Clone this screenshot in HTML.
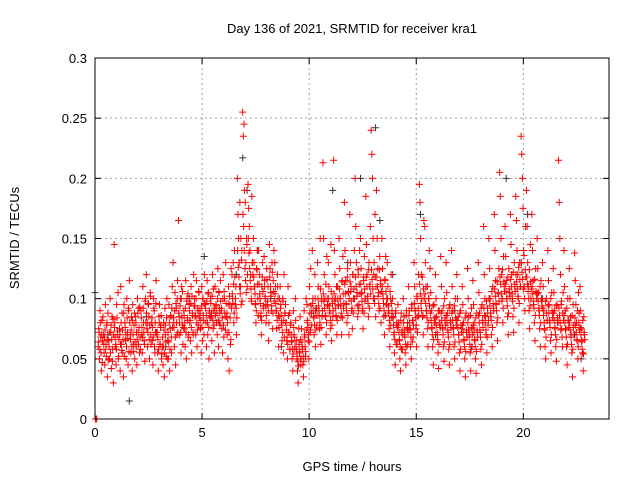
<!DOCTYPE html>
<html><head><meta charset="utf-8"><style>
body{margin:0;background:#fff;}
svg{display:block;font-family:"Liberation Sans",sans-serif;}
</style></head><body>
<svg id="chart" width="640" height="480" viewBox="0 0 640 480" xmlns="http://www.w3.org/2000/svg">
<rect width="640" height="480" fill="#fff"/>
<text x="352" y="33" font-size="13" text-anchor="middle">Day 136 of 2021, SRMTID for receiver kra1</text>
<text x="352" y="471" font-size="13" text-anchor="middle">GPS time / hours</text>
<text transform="translate(19,238) rotate(-90)" font-size="13" text-anchor="middle">SRMTID / TECUs</text>
<g id="grid"></g><g id="ticks"></g><g id="black"></g><g id="red"></g>
<rect x="95" y="58" width="514" height="361" fill="none" stroke="#000" stroke-width="1"/>
</svg>
<script>
const xTicks=[0,5,10,15,20];
const yTicks=[0,0.05,0.1,0.15,0.2,0.25,0.3];
const yTickLabels=["0","0.05","0.1","0.15","0.2","0.25","0.3"];
const redTimes=[0.25,0.5,0.75,1,1.25,1.5,1.75,2,2.25,2.5,2.75,3,3.25,3.5,3.75,4,4.25,4.5,4.75,5,5.25,5.5,5.75,6,6.25,6.5,6.75,7,7.25,7.5,7.75,8,8.25,8.5,8.75,9,9.25,9.5,9.75,10,10.25,10.5,10.75,11,11.25,11.5,11.75,12,12.25,12.5,12.75,13,13.25,13.5,13.75,14,14.25,14.5,14.75,15,15.25,15.5,15.75,16,16.25,16.5,16.75,17,17.25,17.5,17.75,18,18.25,18.5,18.75,19,19.25,19.5,19.75,20,20.25,20.5,20.75,21,21.25,21.5,21.75,22,22.25,22.5,22.75];
const redValues=[
[60,75,50,90,68,40,82,65],[70,55,45,95,62,78,35,88],[65,50,100,72,42,85,58,30],[145,80,60,45,95,70,105,52],
[75,40,110,62,88,55,35,95],[80,65,50,100,72,45,90,115],[70,55,85,40,95,62,78,50],[85,60,45,100,72,92,55,68],
[90,70,55,110,80,65,48,100],[120,75,60,95,85,50,105,70],[80,65,45,100,90,55,72,115],[70,55,40,85,95,62,78,50],
[60,45,80,35,92,70,52,100],[65,50,95,40,75,85,55,110],[130,80,60,105,45,92,70,115],[165,85,70,100,55,110,78,62],
[90,75,60,115,50,100,82,68],[95,80,65,110,55,88,72,120],[100,85,70,115,60,92,78,105],[90,75,55,110,65,100,82,120],
[95,80,60,115,70,105,50,88],[100,85,65,120,75,90,55,110],[95,80,70,125,60,105,88,115],[90,75,55,120,68,100,85,130],
[85,70,50,110,40,95,62,125],[120,100,130,80,140,95,110,70],[200,170,150,130,180,110,95,140],[255,235,245,190,180,130,150,110],
[195,175,160,140,120,100,185,130],[150,130,110,95,80,125,140,100],[140,120,100,85,70,110,130,92],[135,115,100,80,125,95,110,65],
[145,125,105,90,130,75,115,140],[130,110,90,75,120,100,60,85],[110,95,80,65,100,55,120,88],[95,80,65,50,110,72,88,58],
[80,65,50,40,90,70,58,100],[65,50,40,30,75,55,85,45],[75,60,45,35,90,68,52,100],[95,80,65,50,110,72,125,88],
[140,100,85,70,120,60,92,78],[130,110,90,75,150,62,100,85],[213,150,120,100,85,70,135,95],[130,110,90,75,145,65,100,85],
[215,140,120,100,85,70,110,95],[150,125,100,85,70,115,135,92],[180,140,115,95,80,125,105,70],[170,130,110,90,75,120,100,140],
[200,160,130,105,85,120,95,140],[150,125,105,90,75,115,135,98],[185,145,120,100,85,130,110,160],[240,220,200,150,120,100,170,85],
[190,150,125,105,90,135,115,80],[150,125,100,85,70,115,135,95],[130,110,90,75,60,100,120,85],[100,85,70,55,45,90,78,62],
[95,80,65,50,40,88,72,58],[100,85,70,55,45,90,75,62],[110,90,75,60,50,95,82,68],[130,110,90,75,60,100,85,120],
[195,180,150,120,100,85,70,165],[160,130,110,90,75,60,100,140],[125,105,90,75,60,45,95,80],[120,100,85,70,55,42,90,78],
[135,110,90,75,60,48,100,82],[130,105,88,72,58,45,95,80],[140,110,90,75,60,50,100,82],[120,100,85,70,55,40,90,75],
[110,95,80,65,50,35,88,72],[125,100,85,70,55,40,92,75],[115,95,80,65,50,38,88,72],[130,105,88,72,58,45,95,80],
[160,120,100,85,70,55,92,78],[150,125,100,85,70,60,110,92],[170,140,115,95,80,65,105,125],[205,185,150,120,100,80,135,110],
[160,135,115,100,85,70,125,105],[170,145,120,100,85,72,130,110],[185,165,140,120,100,80,130,110],[235,220,200,175,140,110,90,160],
[190,160,130,110,90,75,145,100],[170,140,115,95,80,65,125,105],[150,125,105,90,75,60,115,98],[130,110,90,75,60,50,100,82],
[140,115,95,80,65,55,105,88],[125,105,90,75,60,48,95,82],[215,180,150,120,95,75,60,105],[140,110,90,75,60,45,100,82],
[125,100,85,70,55,35,95,78],[138,115,95,80,65,50,105,88],[110,90,75,65,55,40,85,70]];
const redValues2=[
[64,72,58,80,55,70,47,85],[62,68,74,58,52,80,66,49],[60,72,55,78,66,48,83,70],[76,68,62,58,84,73,50,66],
[70,62,80,57,74,66,88,52],[76,70,60,84,67,92,56,80],[66,74,60,82,70,56,88,64],[80,72,66,88,62,76,93,58],
[84,76,68,92,72,62,98,80],[88,80,72,96,66,78,102,62],[84,76,68,92,60,80,96,72],[72,66,58,80,62,76,86,54],
[68,60,74,55,78,64,84,50],[72,64,80,58,86,68,92,76],[84,76,90,68,96,80,100,72],[88,80,94,72,100,84,106,76],
[86,80,92,72,98,84,104,70],[90,82,96,76,102,86,70,94],[94,86,100,80,74,90,106,84],[88,82,94,76,100,86,70,96],
[92,86,98,80,104,76,90,84],[96,88,102,82,108,78,92,86],[94,88,100,82,106,92,78,98],[92,84,100,78,106,88,74,96],
[88,80,96,72,102,84,66,92],[104,96,112,88,118,100,92,84],[140,126,118,110,104,150,132,98],[170,160,140,125,115,105,145,120],
[150,138,125,115,108,98,130,120],[118,110,104,96,90,124,112,86],[112,104,96,88,82,118,106,94],[110,102,94,86,116,98,90,80],
[118,110,102,94,122,88,106,98],[104,96,90,82,110,86,76,100],[92,86,78,72,98,82,68,88],[80,74,68,62,86,72,58,78],
[70,64,58,54,76,68,60,82],[58,52,48,44,62,56,66,50],[64,58,52,48,70,60,56,74],[82,76,70,64,88,74,94,78],
[96,90,84,78,100,74,92,86],[100,94,86,80,108,76,98,90],[104,98,92,86,112,80,100,94],[100,94,88,82,106,78,96,90],
[104,98,92,86,110,82,100,94],[108,100,94,88,114,84,104,96],[112,104,96,90,118,86,106,100],[114,106,98,92,120,88,108,100],
[118,110,102,94,124,90,112,104],[112,104,98,92,118,88,108,100],[118,110,102,96,124,92,112,104],[124,116,108,100,130,96,118,110],
[118,110,102,96,124,92,112,106],[110,104,96,90,116,86,106,100],[100,94,88,82,106,78,96,90],[84,78,72,66,88,62,80,76],
[78,72,66,60,82,58,74,70],[80,74,68,62,86,60,76,72],[86,80,74,68,92,64,82,78],[96,90,84,78,102,72,92,86],
[112,104,96,90,118,86,108,100],[104,96,90,84,110,80,100,94],[88,82,76,70,94,66,84,80],[84,78,72,66,90,62,80,76],
[88,82,76,70,94,64,84,78],[86,80,74,68,92,62,82,76],[88,82,76,70,94,64,84,78],[82,76,70,64,88,58,78,72],
[78,72,66,60,84,56,74,68],[80,74,68,62,86,58,76,70],[78,72,66,60,84,56,74,68],[86,80,74,68,92,62,82,76],
[92,86,80,74,98,68,88,82],[100,94,88,82,106,76,96,90],[108,102,96,90,114,84,104,98],[118,112,104,98,124,92,114,106],
[112,106,100,94,118,88,108,102],[116,110,104,98,122,92,112,106],[120,114,108,102,126,96,116,110],[130,122,116,108,136,100,124,118],
[118,112,106,100,124,94,114,108],[110,104,98,92,116,86,106,100],[104,98,92,86,110,80,100,94],[92,86,80,74,98,68,88,82],
[94,88,82,76,100,70,90,84],[88,82,76,70,94,66,84,80],[92,86,80,74,98,68,88,82],[86,80,74,68,92,62,82,76],
[80,74,68,62,86,58,76,70],[84,78,72,66,90,60,80,74],[76,70,64,58,82,54,72,66]];
const zeroTimes=[0.02,0.05,0.08];
const blackTimes=[0,0.6,1.6,2.4,3.3,4.4,5.1,5.8,6.6,6.9,7.1,7.6,8.2,8.7,9.6,10.3,11.1,11.8,12.4,13.1,13.3,13.9,14.6,15.2,15.9,16.8,17.6,18.4,19.2,19.9,20.2,20.9,21.6,22.4,22.7];
const blackValues=[0.105,0.07,0.015,0.085,0.06,0.1,0.135,0.08,0.12,0.217,0.19,0.14,0.1,0.06,0.05,0.09,0.19,0.13,0.2,0.242,0.165,0.12,0.08,0.17,0.07,0.09,0.06,0.1,0.2,0.13,0.17,0.1,0.08,0.07,0.05];
const NS="http://www.w3.org/2000/svg";
const L=95,R=609,T=58,B=419,XMAX=24,YMAX=0.3;
function xs(t){return L+(t/XMAX)*(R-L);}
function ys(v){return B-(v/YMAX)*(B-T);}
function mk(tag,attrs,parent){const e=document.createElementNS(NS,tag);for(const k in attrs)e.setAttribute(k,attrs[k]);parent.appendChild(e);return e;}
const grid=document.getElementById('grid'),ticks=document.getElementById('ticks');
yTicks.forEach((v,i)=>{const y=ys(v);
 if(i>0&&i<yTicks.length-1){const g=mk('line',{x1:L,x2:R,y1:y,y2:y,stroke:'#a0a0a0','stroke-dasharray':'2,3'},grid);
 
 }
 mk('line',{x1:L,x2:L+6,y1:y,y2:y,stroke:'#000'},ticks);mk('line',{x1:R-6,x2:R,y1:y,y2:y,stroke:'#000'},ticks);
 const tx=mk('text',{x:L-8,y:y+5,'font-size':13,'text-anchor':'end'},ticks);tx.textContent=yTickLabels[i];
 
 });
xTicks.forEach(t=>{const x=xs(t);
 if(t>0){const g=mk('line',{x1:x,x2:x,y1:T,y2:B,stroke:'#a0a0a0','stroke-dasharray':'2,3'},grid);
 
 }
 mk('line',{x1:x,x2:x,y1:B,y2:B-6,stroke:'#000'},ticks);mk('line',{x1:x,x2:x,y1:T,y2:T+6,stroke:'#000'},ticks);
 const tx=mk('text',{x:x,y:B+18,'font-size':13,'text-anchor':'middle'},ticks);tx.textContent=String(t);
 
 });
function cross(parent,t,v,col,name){const x=xs(t),y=ys(v);
 const p=mk('path',{d:`M${x-3.5},${y}h7M${x},${y-3.5}v7`,stroke:col,'stroke-width':1,fill:'none'},parent);
 
 }
const bg=document.getElementById('black'),rg=document.getElementById('red');
blackTimes.forEach((t,i)=>cross(bg,t,blackValues[i],'#333','black-point'));
zeroTimes.forEach(t=>cross(rg,t,0,'#f00','red-point'));
redTimes.forEach((t,i)=>{redValues[i].forEach((v,j)=>cross(rg,t+(j-3.5)*0.03,v/1000,'#f00','red-point'));});
redTimes.forEach((t,i)=>{redValues2[i].forEach((v,j)=>cross(rg,t+(j-3.5)*0.03+0.015,v/1000,'#f00','red-point'));});
</script>
</body></html>
